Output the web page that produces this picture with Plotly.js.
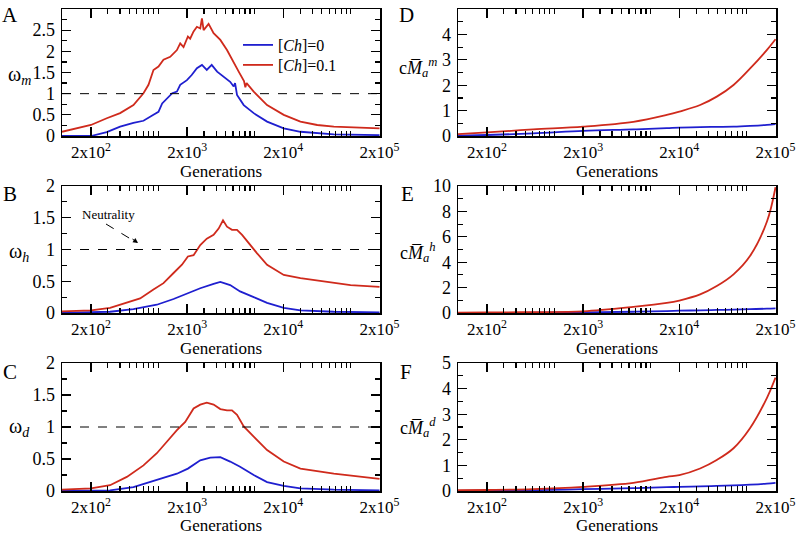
<html lang="en">
  <head>
    <meta charset="UTF-8" />
    <title>Generations panels</title>
    <script src="https://cdn.plot.ly/plotly-3.0.1.min.js"></script>
    <style>
      body { margin: 0; background: #fff; }
    </style>
  </head>
  <body>
    <div id="chart" style="width: 798px; height: 535px;"></div>
    <script>
      // tick labels on the log axis
      const xTickVals = [200, 2000, 20000, 200000];
      const xTickText = ['2x10<sup>2</sup>', '2x10<sup>3</sup>', '2x10<sup>4</sup>', '2x10<sup>5</sup>'];
      const xMinorVals = [300, 400, 500, 600, 700, 800, 900, 1000,
                          3000, 4000, 5000, 6000, 7000, 8000, 9000, 10000,
                          30000, 40000, 50000, 60000, 70000, 80000, 90000, 100000];
      const seriesNames = ['[<i>Ch</i>]=0', '[<i>Ch</i>]=0.1'];

      // panel A (omega_m)
      const genA_red = [100, 200, 292, 402, 553, 703, 793, 893, 1007, 1135, 1334, 1566, 1694, 1835, 2037, 2150, 2333, 2527, 2738, 2851, 2966, 3342, 3767, 4426, 5192, 6094, 6870, 7800, 8057, 8300, 9840, 13550, 20200, 30100, 45000, 67000, 100000, 200000];
      const valA_red = [0.10, 0.26, 0.42, 0.54, 0.73, 1.01, 1.21, 1.56, 1.64, 1.80, 1.87, 2.03, 2.19, 2.10, 2.35, 2.30, 2.47, 2.58, 2.54, 2.78, 2.50, 2.65, 2.43, 2.27, 2.03, 1.72, 1.52, 1.30, 1.15, 1.25, 1.05, 0.73, 0.50, 0.34, 0.26, 0.22, 0.20, 0.18];
      const genA_blue = [100, 200, 292, 402, 553, 703, 893, 1007, 1100, 1230, 1400, 1566, 1694, 1990, 2230, 2527, 2851, 3200, 3600, 4100, 4800, 5600, 6094, 6300, 6600, 7750, 9840, 13550, 20200, 30100, 67000, 200000];
      const valA_blue = [0, 0, 0.09, 0.22, 0.31, 0.36, 0.50, 0.57, 0.77, 0.89, 1.01, 1.05, 1.21, 1.32, 1.44, 1.60, 1.68, 1.56, 1.68, 1.52, 1.40, 1.28, 1.17, 1.25, 0.97, 0.73, 0.54, 0.34, 0.18, 0.10, 0.04, 0.02];

      // panel B (omega_h)
      const genB_red = [100, 200, 316, 472, 649, 893, 1135, 1445, 1766, 2037, 2333, 2738, 3200, 3767, 4250, 4720, 5192, 5850, 6600, 7450, 8730, 10670, 13550, 20200, 30100, 45000, 67000, 100000, 200000];
      const valB_red = [0.026, 0.04, 0.08, 0.16, 0.23, 0.37, 0.47, 0.63, 0.76, 0.89, 0.91, 1.07, 1.17, 1.23, 1.33, 1.46, 1.36, 1.31, 1.31, 1.23, 1.10, 0.94, 0.76, 0.60, 0.55, 0.51, 0.47, 0.44, 0.41];
      const genB_blue = [100, 200, 316, 553, 968, 1445, 2037, 2738, 3767, 4426, 5600, 7100, 9840, 13550, 20200, 30100, 67000, 200000];
      const valB_blue = [0, 0.01, 0.02, 0.06, 0.13, 0.22, 0.31, 0.39, 0.46, 0.49, 0.44, 0.34, 0.25, 0.16, 0.08, 0.04, 0.02, 0.01];

      // panel C (omega_d)
      const genC_red = [100, 200, 316, 472, 703, 968, 1230, 1566, 1910, 2333, 2738, 3200, 3767, 4426, 5192, 5850, 6600, 7750, 9840, 13550, 20200, 30100, 67000, 200000];
      const valC_red = [0.02, 0.04, 0.09, 0.22, 0.40, 0.59, 0.77, 0.95, 1.08, 1.29, 1.35, 1.38, 1.35, 1.28, 1.26, 1.26, 1.19, 1.01, 0.85, 0.64, 0.46, 0.35, 0.27, 0.19];
      const genC_blue = [100, 316, 553, 968, 1566, 2037, 2738, 3480, 4426, 5600, 7100, 9840, 13550, 20200, 30100, 67000, 200000];
      const valC_blue = [0, 0.01, 0.06, 0.17, 0.27, 0.35, 0.48, 0.52, 0.53, 0.46, 0.38, 0.25, 0.14, 0.08, 0.04, 0.02, 0.01];

      // panels D, E, F share the same generations
      const genRight = [100, 200, 604, 2000, 6650, 14800, 20000, 32900, 49000, 73200, 109000, 163000, 200000];
      const valD_red = [0.07, 0.14, 0.26, 0.37, 0.56, 0.83, 0.96, 1.22, 1.55, 2.01, 2.66, 3.39, 3.81];
      const valD_blue = [0.01, 0.04, 0.10, 0.20, 0.26, 0.31, 0.33, 0.35, 0.36, 0.37, 0.40, 0.44, 0.47];
      const valE_red = [0.03, 0.04, 0.07, 0.13, 0.48, 0.79, 0.98, 1.46, 2.12, 3.04, 4.50, 7.2, 9.9];
      const valE_blue = [0, 0, 0.02, 0.05, 0.10, 0.15, 0.18, 0.21, 0.24, 0.26, 0.30, 0.34, 0.37];
      const valF_red = [0.03, 0.04, 0.07, 0.16, 0.32, 0.55, 0.62, 0.88, 1.21, 1.67, 2.46, 3.64, 4.43];
      const valF_blue = [0, 0.01, 0.03, 0.07, 0.11, 0.15, 0.16, 0.18, 0.20, 0.22, 0.25, 0.29, 0.32];

      const blue = '#1f1fcf';
      const red = '#cf2a1c';
      const W = 798, H = 535;
      // a single family name: a comma list was not picked up
      const serif = 'Liberation Serif';

      function line(x, y, color, n, name, leg, smooth) {
          const t = {
              x: x, y: y, xaxis: 'x' + n, yaxis: 'y' + n,
              type: 'scatter', mode: 'lines', name: name, showlegend: !!leg,
              line: { color: color, width: 1.8, shape: smooth ? 'spline' : 'linear' }
          };
          if (leg) t.legend = leg;
          return t;
      }

      const traces = [
          line(genA_blue, valA_blue, blue, '', seriesNames[0], 'legend'),
          line(genA_red, valA_red, red, '', seriesNames[1], 'legend2'),
          line(genB_blue, valB_blue, blue, 2, seriesNames[0]),
          line(genB_red, valB_red, red, 2, seriesNames[1]),
          line(genC_blue, valC_blue, blue, 3, seriesNames[0]),
          line(genC_red, valC_red, red, 3, seriesNames[1]),
          line(genRight, valD_blue, blue, 4, seriesNames[0], null, true),
          line(genRight, valD_red, red, 4, seriesNames[1], null, true),
          line(genRight, valE_blue, blue, 5, seriesNames[0], null, true),
          line(genRight, valE_red, red, 5, seriesNames[1], null, true),
          line(genRight, valF_blue, blue, 6, seriesNames[0], null, true),
          line(genRight, valF_red, red, 6, seriesNames[1], null, true)
      ];

      // pixel boxes of the six panels
      const colX = [[62, 380], [458, 776]];
      const rowY = [[9, 136], [186, 313], [363, 491]];
      const yMax = [3, 2, 2, 5, 10, 5];
      const yStep = [0.5, 0.5, 0.5, 1, 2, 1];

      function legendAt(px, py) {
          return {
              x: px / W, y: 1 - py / H, xanchor: 'left', yanchor: 'top',
              bgcolor: 'rgba(0,0,0,0)', borderwidth: 0,
              font: { size: 16, family: serif, color: '#000' }
          };
      }

      const layout = {
          width: W, height: H,
          margin: { l: 0, r: 0, t: 0, b: 0 },
          paper_bgcolor: '#fff', plot_bgcolor: '#fff',
          font: { family: serif, size: 16, color: '#000' },
          showlegend: true,
          legend: legendAt(238, 28),
          legend2: legendAt(238, 48),
          shapes: [], annotations: []
      };

      for (let i = 0; i < 6; i++) {
          const col = i < 3 ? 0 : 1;
          const row = i % 3;
          const sfx = i === 0 ? '' : String(i + 1);
          layout['xaxis' + sfx] = {
              type: 'log', range: [2, Math.log10(2e5) + 0.005],
              domain: [colX[col][0] / W, colX[col][1] / W],
              anchor: 'y' + sfx,
              tickmode: 'array', tickvals: xTickVals, ticktext: xTickText,
              ticks: 'inside', ticklen: 9, tickwidth: 1.3, tickcolor: '#000',
              minor: { tickmode: 'array', tickvals: xMinorVals, ticks: 'inside', ticklen: 5, tickwidth: 1.2, tickcolor: '#000' },
              showline: true, linecolor: '#000', linewidth: 1.5, mirror: 'allticks',
              showgrid: false, zeroline: false, ticklabelstandoff: 0,
              tickfont: { size: 17, family: serif, color: '#000' },
              title: { text: 'Generations', font: { size: 17, family: serif, color: '#000' }, standoff: 3 }
          };
          layout['yaxis' + sfx] = {
              range: [0, yMax[i]],
              domain: [1 - rowY[row][1] / H, 1 - rowY[row][0] / H],
              anchor: 'x' + sfx,
              tickmode: 'linear', tick0: 0, dtick: yStep[i],
              ticks: 'inside', ticklen: 9, tickwidth: 1.3, tickcolor: '#000',
              minor: { dtick: yStep[i] / 2, ticks: 'inside', ticklen: 5, tickwidth: 1.2, tickcolor: '#000' },
              showline: true, linecolor: '#000', linewidth: 1.5, mirror: 'allticks',
              showgrid: false, zeroline: false, ticklabelstandoff: 2,
              tickfont: { size: 18, family: serif, color: '#000' }
          };
      }

      // neutrality line at 1 in A, B, C
      ['', '2', '3'].forEach(s => {
          layout.shapes.push({
              type: 'line', xref: 'x' + s + ' domain', x0: 0, x1: 1,
              yref: 'y' + s, y0: 1, y1: 1,
              line: { color: '#000', width: 1, dash: 'dash' }
          });
      });
      // dashed arrow shaft for "Neutrality"
      layout.shapes.push({
          type: 'line', xref: 'paper', yref: 'paper',
          x0: 106 / W, y0: 1 - 224 / H, x1: 134 / W, y1: 1 - 241 / H,
          line: { color: '#000', width: 1, dash: 'dash' }
      });

      function ann(px, py, text, size, extra) {
          return Object.assign({
              xref: 'paper', yref: 'paper', x: px / W, y: 1 - py / H,
              text: text, showarrow: false, font: { size: size, family: serif, color: '#000' },
              xanchor: 'center', yanchor: 'middle'
          }, extra || {});
      }

      const letters = [['A', 10, 15], ['B', 10, 194], ['C', 10, 372], ['D', 406, 15], ['E', 407, 194], ['F', 406, 372]];
      letters.forEach(l => layout.annotations.push(ann(l[1], l[2], l[0], 21)));

      layout.annotations.push(ann(19, 75, 'ω<sub><i>m</i></sub>', 20));
      layout.annotations.push(ann(19, 252, 'ω<sub><i>h</i></sub>', 20));
      layout.annotations.push(ann(19, 427, 'ω<sub><i>d</i></sub>', 20));
      layout.annotations.push(ann(418, 68, 'c<i>M\u0305</i><sub><i>a</i></sub><sup><i>m</i></sup>', 18));
      layout.annotations.push(ann(418, 252, 'c<i>M\u0305</i><sub><i>a</i></sub><sup><i>h</i></sup>', 18));
      layout.annotations.push(ann(418, 427, 'c<i>M\u0305</i><sub><i>a</i></sub><sup><i>d</i></sup>', 18));

      layout.annotations.push(ann(108, 214, 'Neutrality', 13));
      layout.annotations.push({
          xref: 'paper', yref: 'paper', x: 138 / W, y: 1 - 243 / H,
          axref: 'pixel', ayref: 'pixel', ax: -7, ay: -5,
          text: '', showarrow: true, arrowhead: 2, arrowsize: 1, arrowwidth: 1, arrowcolor: '#000'
      });

      Plotly.newPlot('chart', traces, layout, { displayModeBar: false, staticPlot: true });
    </script>
  </body>
</html>
